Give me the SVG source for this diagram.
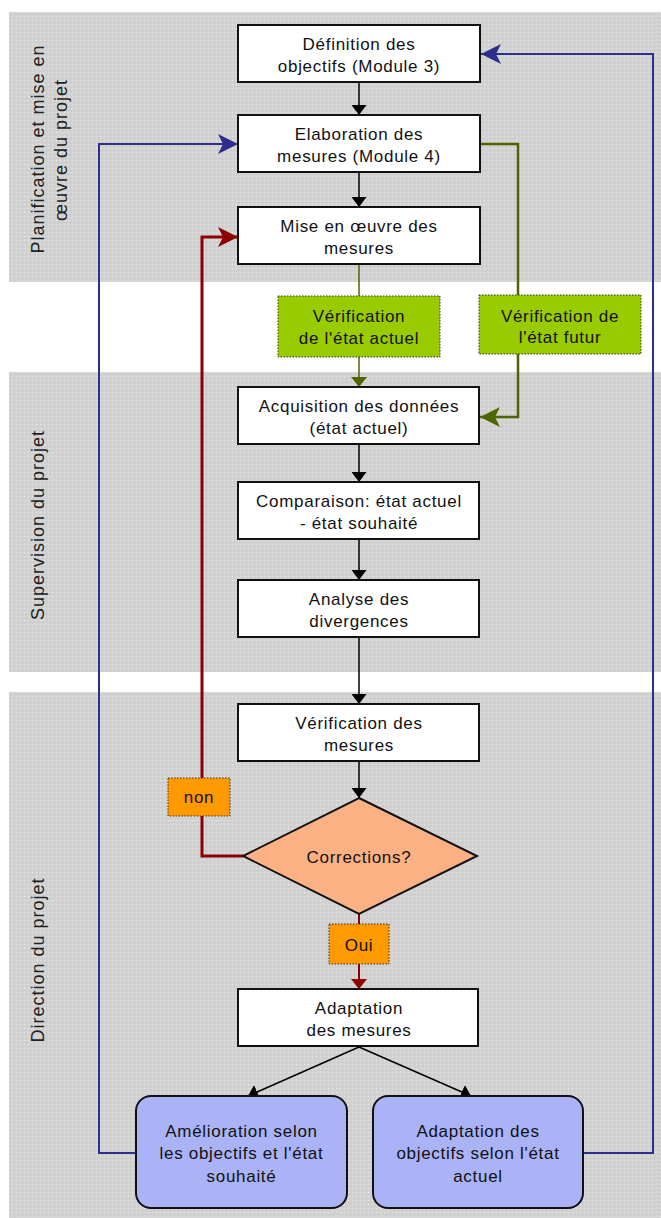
<svg xmlns="http://www.w3.org/2000/svg" width="661" height="1218" viewBox="0 0 661 1218">
<defs>
<pattern id="dots" width="4" height="4" patternUnits="userSpaceOnUse">
<rect width="4" height="4" fill="#d2d2d2"/>
<rect x="0" y="0" width="1" height="1" fill="#e6e6e6"/>
<rect x="2" y="2" width="1" height="1" fill="#c4c4c4"/>
</pattern>
<marker id="ab" markerUnits="userSpaceOnUse" markerWidth="10" markerHeight="15" refX="10" refY="7.5" orient="auto"><path d="M0,0 L10,7.5 L0,15 z" fill="#000"/></marker>
<marker id="ag" markerUnits="userSpaceOnUse" markerWidth="10" markerHeight="16" refX="10" refY="8" orient="auto"><path d="M0,0 L10,8 L0,16 z" fill="#4d6600"/></marker>
<marker id="agB" markerUnits="userSpaceOnUse" markerWidth="20" markerHeight="20" refX="20" refY="10" orient="auto"><path d="M0,0 L20,10 L0,20 L5,10 z" fill="#4d6600"/></marker>
<marker id="ar" markerUnits="userSpaceOnUse" markerWidth="10" markerHeight="16" refX="10" refY="8" orient="auto"><path d="M0,0 L10,8 L0,16 z" fill="#8f0000"/></marker>
<marker id="arB" markerUnits="userSpaceOnUse" markerWidth="20" markerHeight="20" refX="20" refY="10" orient="auto"><path d="M0,0 L20,10 L0,20 L5,10 z" fill="#8f0000"/></marker>
<marker id="abl" markerUnits="userSpaceOnUse" markerWidth="20" markerHeight="20" refX="20" refY="10" orient="auto"><path d="M0,0 L20,10 L0,20 L5,10 z" fill="#2e2e8c"/></marker>
</defs>
<style>
text{font-family:"Liberation Sans",Arial,sans-serif;font-size:17px;letter-spacing:0.7px;fill:#111;text-anchor:middle}
.lane{font-size:18px;letter-spacing:1px;fill:#222}
.box{fill:#fff;stroke:#111;stroke-width:2}
.gbox{fill:#99cc00;stroke:#333;stroke-width:1;stroke-dasharray:1.5,1.5}
.obox{fill:#ff9900;stroke:#333;stroke-width:1;stroke-dasharray:1.5,1.5}
.rbox{fill:#aab3f5;stroke:#111;stroke-width:2}
.k{fill:none;stroke:#000;stroke-width:1.5}
.g{fill:none;stroke:#4d6600;stroke-width:2.5}
.g1{fill:none;stroke:#4d6600;stroke-width:1.5}
.r{fill:none;stroke:#8f0000;stroke-width:3}
.b{fill:none;stroke:#2e2e8c;stroke-width:2}
</style>
<rect width="661" height="1218" fill="#fff"/>
<g id="lanes">
<rect x="9" y="12" width="652" height="270" fill="url(#dots)"/>
<rect x="9" y="372" width="652" height="300" fill="url(#dots)"/>
<rect x="9" y="692" width="652" height="526" fill="url(#dots)"/>
<text class="lane" transform="translate(44,149) rotate(-90)">Planification et mise en</text>
<text class="lane" transform="translate(67,150) rotate(-90)">œuvre du projet</text>
<text class="lane" transform="translate(44,525) rotate(-90)">Supervision du projet</text>
<text class="lane" transform="translate(44,960) rotate(-90)">Direction du projet</text>
</g>
<g id="connectors">
<path class="k" d="M359,82 V115" marker-end="url(#ab)"/>
<path class="k" d="M359,172 V207" marker-end="url(#ab)"/>
<path class="g1" d="M359,264 V296"/>
<path class="g1" d="M359,357 V387" marker-end="url(#ag)"/>
<path class="g" d="M480,144 H518 V295"/>
<path class="g" d="M518,354 V417 H480" marker-end="url(#agB)"/>
<path class="k" d="M359,444 V482" marker-end="url(#ab)"/>
<path class="k" d="M359,539 V580" marker-end="url(#ab)"/>
<path class="k" d="M359,637 V704" marker-end="url(#ab)"/>
<path class="k" d="M359,761 V798" marker-end="url(#ab)"/>
<path class="r" d="M243,856 H202 V237 H238" marker-end="url(#arB)"/>
<path class="r" d="M359,914 V924" style="stroke-width:2"/>
<path class="r" d="M359,964 V989" style="stroke-width:2" marker-end="url(#ar)"/>
<path class="k" d="M359,1047 L248,1096" marker-end="url(#ab)"/>
<path class="k" d="M359,1047 L471,1096" marker-end="url(#ab)"/>
<path class="b" d="M136,1153 H99 V144 H238" marker-end="url(#abl)"/>
<path class="b" d="M583,1153 H653 V54 H481" marker-end="url(#abl)"/>
</g>
<g id="n1"><rect class="box" x="238" y="25" width="242" height="57"/><text x="359" y="50">Définition des</text><text x="359" y="72">objectifs (Module 3)</text></g>
<g id="n2"><rect class="box" x="238" y="115" width="242" height="57"/><text x="359" y="140">Elaboration des</text><text x="359" y="162">mesures (Module 4)</text></g>
<g id="n3"><rect class="box" x="238" y="207" width="242" height="57"/><text x="359" y="232">Mise en œuvre des</text><text x="359" y="254">mesures</text></g>
<g id="v1"><rect class="gbox" x="278" y="296" width="162" height="61"/><text x="359" y="322">Vérification</text><text x="359" y="344">de l'état actuel</text></g>
<g id="v2"><rect class="gbox" x="479" y="295" width="162" height="59"/><text x="560" y="322">Vérification de</text><text x="560" y="343">l'état futur</text></g>
<g id="n4"><rect class="box" x="238" y="387" width="241" height="57"/><text x="359" y="412">Acquisition des données</text><text x="359" y="434">(état actuel)</text></g>
<g id="n5"><rect class="box" x="238" y="482" width="241" height="57"/><text x="359" y="507">Comparaison: état actuel</text><text x="359" y="529">- état souhaité</text></g>
<g id="n6"><rect class="box" x="238" y="580" width="241" height="57"/><text x="359" y="605">Analyse des</text><text x="359" y="627">divergences</text></g>
<g id="n7"><rect class="box" x="238" y="704" width="241" height="57"/><text x="359" y="729">Vérification des</text><text x="359" y="751">mesures</text></g>
<g id="d1"><polygon points="359,798 477,856 359,914 243,856" fill="#fbb183" stroke="#111" stroke-width="2"/><text x="359" y="863">Corrections?</text></g>
<g id="l_non"><rect class="obox" x="168" y="778" width="62" height="38"/><text x="199" y="803">non</text></g>
<g id="l_oui"><rect class="obox" x="329" y="924" width="60" height="40"/><text x="359" y="951">Oui</text></g>
<g id="n8"><rect class="box" x="238" y="989" width="240" height="57"/><text x="359" y="1014">Adaptation</text><text x="359" y="1036">des mesures</text></g>
<g id="n9"><rect class="rbox" x="136" y="1096" width="211" height="112" rx="15"/><text x="241.5" y="1137">Amélioration selon</text><text x="241.5" y="1159">les objectifs et l'état</text><text x="241.5" y="1182">souhaité</text></g>
<g id="n10"><rect class="rbox" x="373" y="1096" width="210" height="112" rx="15"/><text x="478" y="1137">Adaptation des</text><text x="478" y="1159">objectifs selon l'état</text><text x="478" y="1182">actuel</text></g>
</svg>
